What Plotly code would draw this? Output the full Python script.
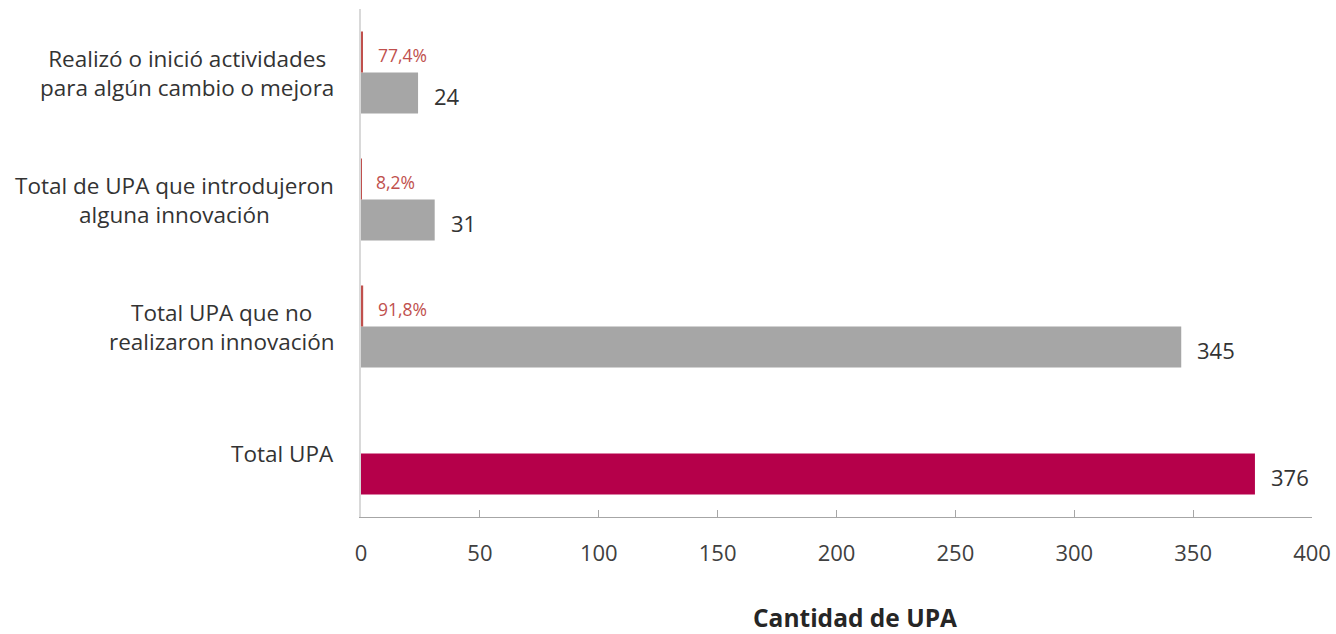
import plotly.graph_objects as go

# ---- data ----
categories = [
    "Total UPA",
    "Total UPA que no realizaron innovación",
    "Total de UPA que introdujeron alguna innovación",
    "Realizó o inició actividades para algún cambio o mejora",
]
category_labels = [
    "Total UPA",
    "Total UPA que no<br>realizaron innovación",
    "Total de UPA que introdujeron<br>alguna innovación",
    "Realizó o inició actividades<br>para algún cambio o mejora",
]
counts = [376, 345, 31, 24]
count_colors = ["#B5004A", "#A6A6A6", "#A6A6A6", "#A6A6A6"]
shares = [None, 0.918, 0.082, 0.774]
share_labels = ["", "91,8%", "8,2%", "77,4%"]
x_ticks = [0, 50, 100, 150, 200, 250, 300, 350, 400]
x_title = "Cantidad de UPA"

FONT = "Open Sans"

fig = go.Figure()
fig.add_trace(go.Bar(
    y=categories, x=counts, orientation="h",
    marker=dict(color=count_colors, line=dict(width=0)),
    hoverinfo="skip", showlegend=False,
))
fig.add_trace(go.Bar(
    y=categories, x=shares, orientation="h",
    marker=dict(color="#C0504D", line=dict(width=0)),
    hoverinfo="skip", showlegend=False,
))

annotations = []
for cat, v in zip(categories, counts):
    annotations.append(dict(
        x=v, y=cat, xref="x", yref="y", text=str(v), showarrow=False,
        xanchor="left", yanchor="middle", xshift=14, yshift=-23,
        font=dict(family=FONT, size=22, color="#333333"),
    ))
for cat, v, lab in zip(categories, shares, share_labels):
    if v is None:
        continue
    annotations.append(dict(
        x=v, y=cat, xref="x", yref="y", text=lab, showarrow=False,
        xanchor="left", yanchor="middle", xshift=13, yshift=18,
        font=dict(family=FONT, size=17.5, color="#C0504D"),
    ))
for cat, lab in zip(categories, category_labels):
    annotations.append(dict(
        x=-0.026, y=cat, xref="paper", yref="y", text=lab, showarrow=False,
        xanchor="right", yanchor="middle", align="center",
        font=dict(family=FONT, size=22.5, color="#333333"),
    ))
annotations.append(dict(
    x=0.519, y=-0.197, xref="paper", yref="paper", text="<b>" + x_title + "</b>",
    showarrow=False, xanchor="center", yanchor="middle",
    font=dict(family=FONT, size=24.5, color="#262626"),
))

fig.update_layout(
    width=1336, height=634,
    margin=dict(l=361, r=24, t=9, b=117, autoexpand=False),
    paper_bgcolor="white", plot_bgcolor="white",
    barmode="group", bargap=0.354, bargroupgap=0,
    font=dict(family=FONT, size=22, color="#404040"),
    annotations=annotations,
    xaxis=dict(
        range=[0, 400], tickvals=x_ticks, ticks="inside", ticklen=7,
        tickcolor="#A6A6A6", showline=True, linecolor="#A6A6A6", linewidth=1,
        showgrid=False, zeroline=False, ticklabelstandoff=17, automargin=False,
        tickfont=dict(family=FONT, size=22, color="#404040"),
    ),
    yaxis=dict(
        type="category", categoryorder="array", categoryarray=categories,
        showticklabels=False, showline=True, linecolor="#D9D9D9", linewidth=2,
        ticks="", showgrid=False, zeroline=False, automargin=False,
    ),
)

fig.write_html(
    "out.html",
    config={"displayModeBar": False},
    post_script=(
        "document.body.style.margin='0';"
        "document.body.style.overflow='hidden';"
        "document.documentElement.style.overflow='hidden';"
    ),
)
